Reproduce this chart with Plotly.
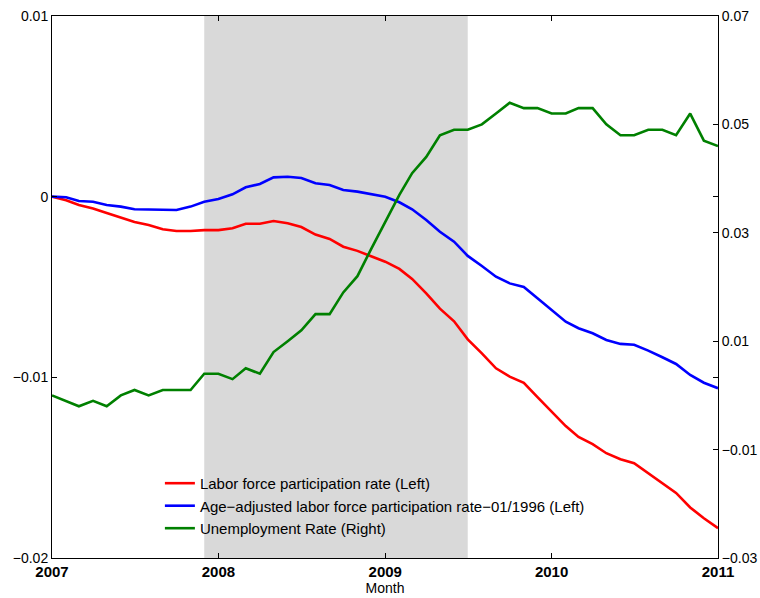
import plotly.graph_objects as go

months = [f"{2007 + (i // 12)}-{(i % 12) + 1:02d}-01" for i in range(49)]

lfpr = [0.0, -0.0002, -0.00046, -0.00065, -0.0009, -0.00115, -0.0014, -0.00157, -0.0018, -0.0019,
        -0.0019, -0.00185, -0.00185, -0.00175, -0.0015, -0.0015, -0.00135, -0.00147, -0.00168, -0.0021,
        -0.00234, -0.00277, -0.003, -0.0033, -0.0036, -0.004, -0.00455, -0.00535, -0.0062, -0.0069,
        -0.0079, -0.00867, -0.0095, -0.00996, -0.0103, -0.0111, -0.0119, -0.0127, -0.0133, -0.0137,
        -0.0142, -0.01453, -0.01475, -0.0153, -0.0159, -0.0164, -0.0172, -0.0178, -0.01835]

age_adj = [0.0, -0.00003, -0.00024, -0.00028, -0.00046, -0.00055, -0.0007, -0.0007, -0.00074, -0.00074,
           -0.00055, -0.00028, -0.00013, 0.00013, 0.00052, 0.0007, 0.00107, 0.0011, 0.00103, 0.00074,
           0.00065, 0.00037, 0.00028, 0.00013, 0.0, -0.00031, -0.0007, -0.00129, -0.00194, -0.00249,
           -0.00328, -0.00384, -0.00443, -0.0048, -0.005, -0.00562, -0.00627, -0.00692, -0.00728, -0.00756,
           -0.00793, -0.00815, -0.0082, -0.00852, -0.00889, -0.00926, -0.00987, -0.0103, -0.0106]

unemp = [0.0, -0.001, -0.002, -0.001, -0.002, 0.0, 0.001, 0.0, 0.001, 0.001,
         0.001, 0.004, 0.004, 0.003, 0.005, 0.004, 0.008, 0.010, 0.012, 0.015,
         0.015, 0.019, 0.022, 0.027, 0.032, 0.037, 0.041, 0.044, 0.048, 0.049,
         0.049, 0.050, 0.052, 0.054, 0.053, 0.053, 0.052, 0.052, 0.053, 0.053,
         0.050, 0.048, 0.048, 0.049, 0.049, 0.048, 0.052, 0.047, 0.046]

recession = ["2007-12-01", "2009-07-01"]

left_ticks = [-0.02, -0.01, 0, 0.01]
left_labels = ["\u22120.02", "\u22120.01", "0", "0.01"]
right_ticks = [-0.03, -0.01, 0.01, 0.03, 0.05, 0.07]
right_labels = ["\u22120.03", "\u22120.01", "0.01", "0.03", "0.05", "0.07"]
year_ticks = ["2007-01-01", "2008-01-01", "2009-01-01", "2010-01-01", "2011-01-01"]
year_labels = ["<b>2007</b>", "<b>2008</b>", "<b>2009</b>", "<b>2010</b>", "<b>2011</b>"]

names = ["Labor force participation rate (Left)",
         "Age\u2212adjusted labor force participation rate\u221201/1996 (Left)",
         "Unemployment Rate (Right)"]

font = "Liberation Sans, Arial, Helvetica, sans-serif"

fig = go.Figure()
fig.add_trace(go.Scatter(x=months, y=lfpr, mode="lines", name=names[0],
                         line=dict(color="#ff0000", width=2.6), legendgroup="a"))
fig.add_trace(go.Scatter(x=months, y=age_adj, mode="lines", name=names[1],
                         line=dict(color="#0000ff", width=2.6), legendgroup="b"))
fig.add_trace(go.Scatter(x=months, y=unemp, mode="lines", name=names[2], yaxis="y2",
                         line=dict(color="#008000", width=2.6), legendgroup="c"))

fig.add_shape(type="rect", xref="x", yref="paper", x0=recession[0], x1=recession[1],
              y0=0, y1=1, fillcolor="#d9d9d9", line=dict(width=0), layer="below")

fig.update_layout(
    width=760, height=598,
    margin=dict(l=52, r=42, t=16, b=40),
    paper_bgcolor="white", plot_bgcolor="white",
    font=dict(family=font, size=14, color="black"),
    showlegend=True,
    legend=dict(x=0.162, y=0.168, xanchor="left", yanchor="top",
                bgcolor="rgba(0,0,0,0)", borderwidth=0,
                font=dict(size=15), tracegroupgap=0, traceorder="normal"),
    xaxis=dict(type="date", range=["2007-01-01", "2011-01-01"],
               tickvals=year_ticks, ticktext=year_labels, tickfont=dict(size=15),
               showgrid=False, zeroline=False, showline=True, linecolor="black", linewidth=1,
               mirror="ticks", ticks="inside", ticklen=5, tickcolor="black", automargin=False,
               ticklabeloverflow="allow",
               title=dict(text="Month", font=dict(size=14), standoff=2)),
    yaxis=dict(range=[-0.02, 0.01], tickvals=left_ticks, ticktext=left_labels,
               showgrid=False, zeroline=False, showline=True, linecolor="black", linewidth=1,
               mirror="ticks", ticks="inside", ticklen=5, tickcolor="black", automargin=False,
               ticklabeloverflow="allow"),
    yaxis2=dict(range=[-0.03, 0.07], tickvals=right_ticks, ticktext=right_labels,
                overlaying="y", side="right", automargin=False, ticklabeloverflow="allow",
                showgrid=False, zeroline=False, showline=True, linecolor="black", linewidth=1,
                ticks="inside", ticklen=5, tickcolor="black"),
)

fig.write_html("out.html", config={"displayModeBar": False},
               post_script="document.body.style.margin='0';document.body.style.overflow='hidden';")
